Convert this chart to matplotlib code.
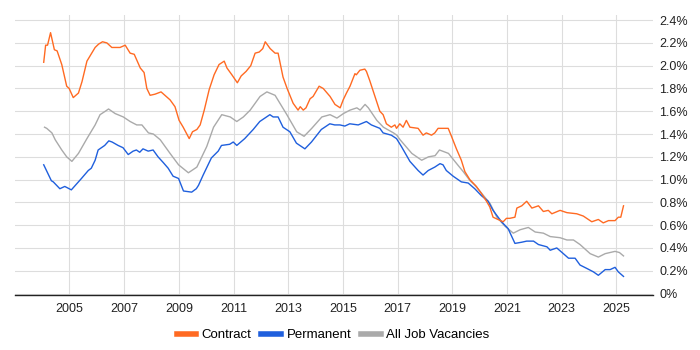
import matplotlib
matplotlib.use("Agg")
import matplotlib.pyplot as plt
from matplotlib.ticker import FuncFormatter

plt.rcParams['font.family'] = ['Liberation Sans', 'DejaVu Sans']

contract_year = [2004.06, 2004.13, 2004.20, 2004.31, 2004.45, 2004.55, 2004.72, 2004.90, 2004.99, 2005.14,
    2005.33, 2005.46, 2005.64, 2005.79, 2005.94, 2006.07, 2006.21, 2006.37, 2006.55, 2006.85,
    2007.04, 2007.22, 2007.37, 2007.59, 2007.73, 2007.83, 2007.95, 2008.13, 2008.35, 2008.54,
    2008.68, 2008.86, 2009.01, 2009.16, 2009.38, 2009.50, 2009.66, 2009.78, 2009.93, 2010.11,
    2010.29, 2010.47, 2010.66, 2010.76, 2010.94, 2011.14, 2011.28, 2011.46, 2011.63, 2011.79,
    2011.94, 2012.07, 2012.16, 2012.34, 2012.52, 2012.63, 2012.81, 2012.96, 2013.18, 2013.36,
    2013.44, 2013.55, 2013.65, 2013.80, 2013.91, 2014.13, 2014.28, 2014.53, 2014.71, 2014.90,
    2015.01, 2015.13, 2015.26, 2015.44, 2015.49, 2015.62, 2015.80, 2015.86, 2015.98, 2016.17,
    2016.35, 2016.47, 2016.59, 2016.77, 2016.90, 2016.96, 2017.08, 2017.20, 2017.32, 2017.45,
    2017.75, 2017.93, 2018.05, 2018.24, 2018.36, 2018.48, 2018.85, 2018.97, 2019.15, 2019.33,
    2019.46, 2019.64, 2019.88, 2020.06, 2020.25, 2020.37, 2020.49, 2020.67, 2020.86, 2020.98,
    2021.10, 2021.29, 2021.36, 2021.54, 2021.72, 2021.91, 2022.15, 2022.33, 2022.51, 2022.64,
    2022.94, 2023.19, 2023.55, 2023.79, 2024.10, 2024.34, 2024.52, 2024.71, 2024.95, 2025.07,
    2025.16, 2025.26]
contract_pct = [2.03, 2.18, 2.18, 2.29, 2.14, 2.13, 2.01, 1.82, 1.80, 1.72,
    1.76, 1.86, 2.04, 2.10, 2.16, 2.19, 2.21, 2.20, 2.16, 2.16,
    2.18, 2.11, 2.10, 1.98, 1.94, 1.80, 1.74, 1.75, 1.77, 1.73,
    1.70, 1.64, 1.52, 1.46, 1.36, 1.42, 1.44, 1.48, 1.61, 1.79,
    1.92, 2.01, 2.04, 1.98, 1.92, 1.85, 1.91, 1.95, 2.00, 2.11,
    2.12, 2.15, 2.21, 2.15, 2.11, 2.11, 1.90, 1.80, 1.67, 1.61,
    1.64, 1.61, 1.63, 1.71, 1.73, 1.82, 1.80, 1.73, 1.66, 1.63,
    1.70, 1.76, 1.82, 1.93, 1.92, 1.96, 1.97, 1.95, 1.87, 1.73,
    1.60, 1.57, 1.49, 1.46, 1.48, 1.45, 1.49, 1.46, 1.52, 1.46,
    1.45, 1.39, 1.41, 1.39, 1.41, 1.45, 1.45, 1.38, 1.27, 1.17,
    1.07, 1.00, 0.94, 0.88, 0.81, 0.76, 0.67, 0.65, 0.63, 0.66,
    0.66, 0.67, 0.75, 0.77, 0.81, 0.75, 0.77, 0.72, 0.73, 0.70,
    0.73, 0.71, 0.70, 0.68, 0.63, 0.65, 0.62, 0.64, 0.64, 0.67,
    0.67, 0.77]

permanent_year = [2004.06, 2004.34, 2004.41, 2004.65, 2004.83, 2005.07, 2005.44, 2005.69, 2005.80, 2005.94,
    2006.05, 2006.29, 2006.44, 2006.56, 2006.78, 2006.96, 2007.15, 2007.33, 2007.45, 2007.57,
    2007.69, 2007.88, 2008.06, 2008.24, 2008.43, 2008.61, 2008.79, 2008.99, 2009.17, 2009.47,
    2009.64, 2009.72, 2009.89, 2010.19, 2010.44, 2010.56, 2010.86, 2010.99, 2011.12, 2011.41,
    2011.72, 2011.96, 2012.33, 2012.45, 2012.63, 2012.81, 2013.06, 2013.30, 2013.61, 2013.85,
    2014.21, 2014.52, 2014.70, 2014.89, 2015.07, 2015.25, 2015.56, 2015.86, 2016.04, 2016.35,
    2016.47, 2016.77, 2016.96, 2017.14, 2017.45, 2017.75, 2017.93, 2018.12, 2018.36, 2018.55,
    2018.66, 2018.78, 2019.03, 2019.33, 2019.58, 2019.82, 2020.06, 2020.31, 2020.49, 2020.80,
    2021.04, 2021.29, 2021.53, 2021.72, 2021.97, 2022.15, 2022.46, 2022.58, 2022.82, 2023.06,
    2023.25, 2023.49, 2023.67, 2023.92, 2024.16, 2024.34, 2024.59, 2024.77, 2024.95, 2025.07,
    2025.26]
permanent_pct = [1.13, 0.99, 0.98, 0.92, 0.94, 0.91, 1.01, 1.08, 1.10, 1.17,
    1.26, 1.30, 1.34, 1.33, 1.30, 1.28, 1.22, 1.25, 1.26, 1.24,
    1.27, 1.25, 1.26, 1.20, 1.15, 1.10, 1.03, 1.01, 0.90, 0.89,
    0.92, 0.95, 1.04, 1.19, 1.25, 1.30, 1.31, 1.33, 1.30, 1.36,
    1.44, 1.51, 1.57, 1.55, 1.55, 1.46, 1.42, 1.32, 1.27, 1.33,
    1.44, 1.49, 1.48, 1.48, 1.47, 1.49, 1.48, 1.51, 1.48, 1.45,
    1.41, 1.39, 1.36, 1.29, 1.16, 1.08, 1.04, 1.08, 1.11, 1.14,
    1.13, 1.08, 1.03, 0.98, 0.97, 0.92, 0.86, 0.81, 0.73, 0.63,
    0.57, 0.44, 0.45, 0.46, 0.46, 0.43, 0.41, 0.38, 0.40, 0.35,
    0.31, 0.31, 0.25, 0.22, 0.19, 0.16, 0.21, 0.21, 0.23, 0.19,
    0.15]

alljobs_year = [2004.09, 2004.17, 2004.36, 2004.48, 2004.72, 2004.90, 2005.09, 2005.33, 2005.64, 2005.94,
    2006.12, 2006.31, 2006.43, 2006.67, 2006.97, 2007.22, 2007.46, 2007.65, 2007.89, 2008.07,
    2008.32, 2008.68, 2008.99, 2009.35, 2009.66, 2010.02, 2010.27, 2010.57, 2010.88, 2011.12,
    2011.36, 2011.61, 2011.97, 2012.22, 2012.52, 2012.95, 2013.31, 2013.58, 2013.86, 2014.23,
    2014.53, 2014.78, 2015.02, 2015.26, 2015.51, 2015.63, 2015.81, 2015.93, 2016.24, 2016.48,
    2016.85, 2016.97, 2017.09, 2017.52, 2017.88, 2018.13, 2018.37, 2018.53, 2018.86, 2019.16,
    2019.40, 2019.65, 2019.83, 2020.14, 2020.38, 2020.63, 2020.93, 2021.23, 2021.48, 2021.78,
    2022.03, 2022.33, 2022.58, 2022.94, 2023.19, 2023.43, 2023.67, 2024.04, 2024.34, 2024.59,
    2024.95, 2025.11, 2025.26]
alljobs_pct = [1.46, 1.45, 1.41, 1.35, 1.26, 1.20, 1.16, 1.23, 1.36, 1.48,
    1.57, 1.60, 1.62, 1.58, 1.55, 1.51, 1.48, 1.48, 1.41, 1.40,
    1.35, 1.23, 1.13, 1.06, 1.11, 1.29, 1.46, 1.57, 1.55, 1.51,
    1.55, 1.61, 1.73, 1.77, 1.74, 1.57, 1.42, 1.38, 1.45, 1.55,
    1.57, 1.54, 1.58, 1.61, 1.63, 1.61, 1.66, 1.63, 1.52, 1.46,
    1.41, 1.39, 1.35, 1.23, 1.17, 1.20, 1.21, 1.26, 1.23, 1.14,
    1.07, 0.99, 0.95, 0.86, 0.79, 0.67, 0.59, 0.53, 0.56, 0.58,
    0.54, 0.53, 0.50, 0.49, 0.47, 0.47, 0.43, 0.35, 0.32, 0.35,
    0.37, 0.36, 0.33]

x_ticks = [2005, 2007, 2009, 2011, 2013, 2015, 2017, 2019, 2021, 2023, 2025]
y_ticks = [0.0, 0.2, 0.4, 0.6, 0.8, 1.0, 1.2, 1.4, 1.6, 1.8, 2.0, 2.2, 2.4]

c_contract = '#ff6a22'
c_perm = '#1f5fdd'
c_all = '#aaaaaa'

fig = plt.figure(figsize=(7, 3.5), dpi=100)
ax = fig.add_axes([15/700, 1 - 295/350, (652.5 - 15)/700, (295 - 15)/350])

ax.plot(alljobs_year, alljobs_pct, color=c_all, lw=1.0, label='All Job Vacancies', zorder=3)
ax.plot(permanent_year, permanent_pct, color=c_perm, lw=1.0, label='Permanent', zorder=4)
ax.plot(contract_year, contract_pct, color=c_contract, lw=1.0, label='Contract', zorder=5)

ax.set_xlim(2003.01, 2026.32)
ax.set_ylim(-0.013, 2.445)
ax.set_xticks(x_ticks)
ax.set_xticklabels([str(t) for t in x_ticks])
ax.set_yticks(y_ticks)

def fmt(v, pos):
    if abs(v) < 1e-9:
        return '0%'
    return f'{v:.1f}%'

ax.yaxis.set_major_formatter(FuncFormatter(fmt))
ax.yaxis.tick_right()
ax.tick_params(axis='both', length=0, labelsize=9, colors='#222222')
ax.tick_params(axis='y', pad=5)
ax.tick_params(axis='x', pad=6)
ax.grid(True, color='#dddddd', lw=0.8)
ax.set_axisbelow(True)
for s in ['top', 'right', 'left']:
    ax.spines[s].set_visible(False)
ax.spines['bottom'].set_color('#222222')
ax.spines['bottom'].set_linewidth(1.0)

leg_handles = [plt.Line2D([0], [0], color=c, lw=4) for c in [c_contract, c_perm, c_all]]
fig.legend(leg_handles, ['Contract', 'Permanent', 'All Job Vacancies'],
           loc='center', bbox_to_anchor=(333/700, 1 - 335/350), ncol=3, frameon=False,
           fontsize=9.5, handlelength=1.5, handletextpad=0.4, columnspacing=0.75)

fig.savefig('out.png', dpi=100)
